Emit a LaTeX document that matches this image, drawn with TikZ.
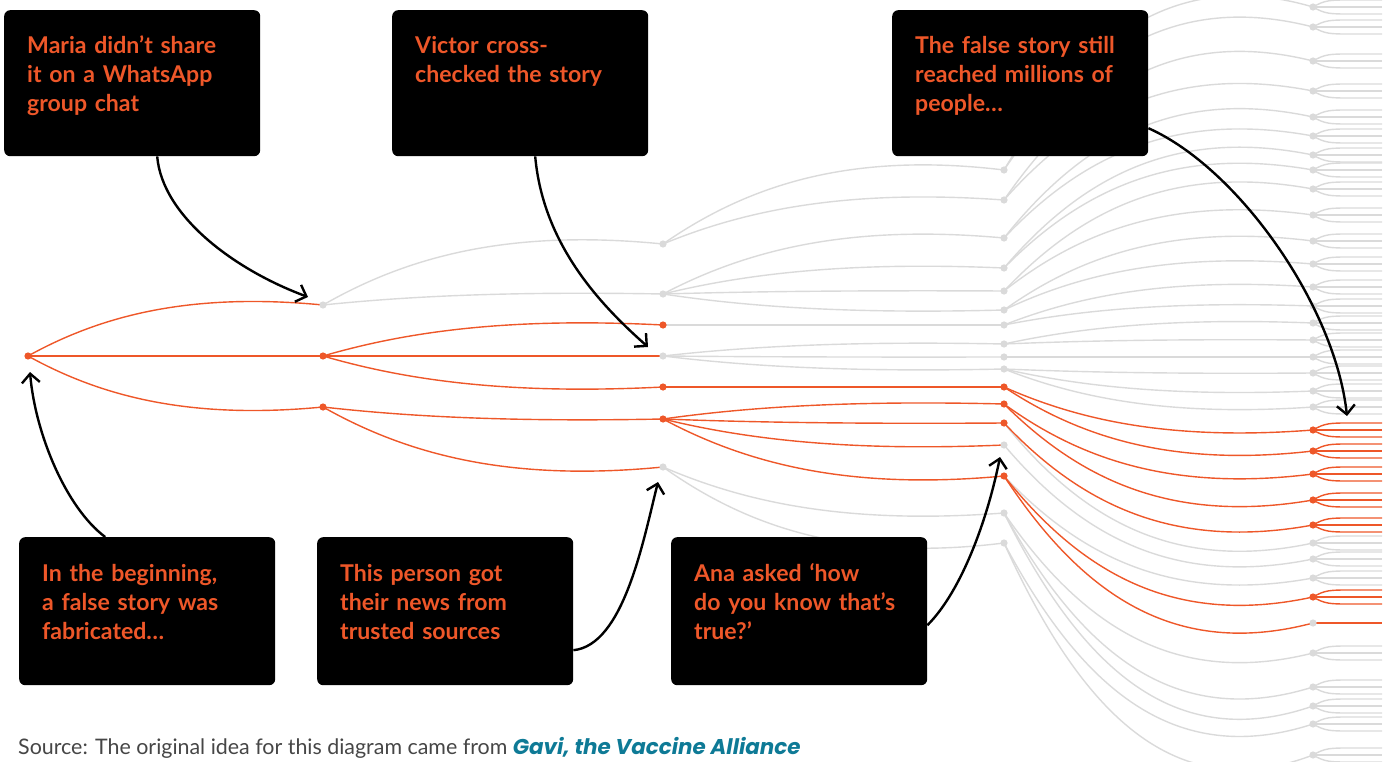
\documentclass[tikz,border=0pt]{standalone}
\usepackage{fontspec}
\setmainfont{Lato}
\newfontfamily\gavifont{Poppins}
\usepackage{xcolor}
\definecolor{story}{RGB}{238, 87, 41}
\definecolor{muted}{RGB}{218, 218, 218}
\definecolor{sourcegray}{RGB}{70, 70, 70}
\definecolor{gavi}{RGB}{14, 122, 150}
\usepackage{tikz}
\usetikzlibrary{calc,arrows.meta}

% one spreading step of the story
\newcommand{\branch}[3]{%
  \draw[#1] let \p1=(#2), \p2=(#3) in (#2)
    .. controls (\x1+0.25*\x2-0.25*\x1, \y1+0.8*\y2-0.8*\y1)
    and (\x1+0.55*\x2-0.55*\x1, \y1+1.25*\y2-1.25*\y1) .. (#3);}

\begin{document}
\begin{tikzpicture}[x=1pt, y=-1pt,
    hot/.style={story, line width=1.4pt},
    cold/.style={muted, line width=1.4pt},
    note/.style={fill=black, rounded corners=6pt, anchor=north west, text=story,
        font=\bfseries\fontsize{23.1}{29}\selectfont, align=left,
        text width=210pt, inner xsep=23pt, inner ysep=0pt},
    top/.style={text height=43pt, text depth=103pt},
    low/.style={text height=44pt, text depth=104pt},
    pointer/.style={black, line width=2.4pt, -{Straight Barb[length=9pt, width=18pt]}}]
    \useasboundingbox (0,0) rectangle (1392,762);

    % Sharing levels
    \coordinate (r) at (28,356);
    \coordinate (a1) at (323,305);
    \coordinate (a2) at (323,356);
    \coordinate (a3) at (323,407);
    \foreach \y [count=\i] in {244,294,325,356,387,419,467}
        \coordinate (b\i) at (663,\y);
    \foreach \y [count=\i] in {170,200,238,268,291,310,325,344,357,369,387,404,423,445,476,513,543}
        \coordinate (c\i) at (1004,\y);
    \foreach \y [count=\i] in {7,27,61,91,117,136,155,170,189,215,241,264,287,306,323,340,357,373,
        391,407,430,451,474,500,525,543,559,578,597,623,653,687,706,724,755}
        \coordinate (d\i) at (1313,\y);

    % Faded branches
    \foreach \src/\dst in {a1/b1, a1/b2, b1/c1, b1/c2, b2/c3, b2/c4, b2/c5, b2/c6, b3/c7,
        b4/c8, b4/c9, b4/c10, b7/c16, b7/c17,
        c1/d1, c1/d2, c2/d3, c2/d4, c3/d5, c3/d6, c4/d7, c4/d8, c5/d9, c5/d10,
        c6/d11, c6/d12, c7/d13, c7/d14, c8/d15, c8/d16, c9/d17, c10/d18, c10/d19, c10/d20,
        c13/d26, c14/d27, c15/d28, c16/d31, c16/d32, c16/d33, c17/d34, c17/d35}
        \branch{cold}{\src}{\dst};
    \foreach \y in {7,27,61,91,117,136,155,170,189,215,241,264,287,306,323,340,357,373,
        391,407,543,559,578,653,687,706,724,755} {
        \draw[cold] (1313,\y) .. controls (1325,\y-7) and (1330,\y-7) .. (1350,\y-7) -- (1382,\y-7);
        \draw[cold] (1313,\y) -- (1382,\y);
        \draw[cold] (1313,\y) .. controls (1325,\y+7) and (1330,\y+7) .. (1350,\y+7) -- (1382,\y+7);
    }

    % Path of the false story
    \foreach \src/\dst in {r/a1, r/a2, r/a3, a2/b3, a2/b4, a2/b5, a3/b6, a3/b7,
        b5/c11, b6/c12, b6/c13, b6/c14, b6/c15,
        c11/d21, c11/d22, c12/d23, c12/d24, c13/d25, c15/d29, c15/d30}
        \branch{hot}{\src}{\dst};
    \foreach \y in {430,451,474,500,525,597} {
        \draw[hot] (1313,\y) .. controls (1325,\y-7) and (1330,\y-7) .. (1350,\y-7) -- (1382,\y-7);
        \draw[hot] (1313,\y) -- (1382,\y);
        \draw[hot] (1313,\y) .. controls (1325,\y+7) and (1330,\y+7) .. (1350,\y+7) -- (1382,\y+7);
    }
    \draw[hot] (d30) -- (1382,623);

    % Dots
    \foreach \n in {a1,b1,b2,b4,b7,c1,c2,c3,c4,c5,c6,c7,c8,c9,c10,c14,c16,c17,
        d1,d2,d3,d4,d5,d6,d7,d8,d9,d10,d11,d12,d13,d14,d15,d16,d17,d18,d19,d20,
        d26,d27,d28,d30,d31,d32,d33,d34,d35}
        \fill[muted] (\n) circle (3.6pt);
    \foreach \n in {r,a2,a3,b3,b5,b6,c11,c12,c13,c15,d21,d22,d23,d24,d25,d29}
        \fill[story] (\n) circle (3.6pt);

    % Notes
    \node[note, top] (mariabox) at (4,10) {Maria didn’t share\\it on a WhatsApp\\group chat};
    \node[note, top] (victorbox) at (392,10) {Victor cross-\\checked the story};
    \node[note, top] (reachbox) at (892,10) {The false story still\\reached millions of\\people…};
    \node[note, low] (startbox) at (19,537) {In the beginning,\\a false story was\\fabricated…};
    \node[note, low] (trustbox) at (317,537) {This person got\\their news from\\trusted sources};
    \node[note, low] (anabox) at (671,537) {Ana asked ‘how\\do you know that’s\\true?’};

    % Pointers
    \draw[pointer] ([xshift=25pt]mariabox.south) .. controls +(5,60) and +(-73,-27) .. ([shift={(-15,-8)}]a1);
    \draw[pointer] ([xshift=15pt]victorbox.south) .. controls +(8,90) and +(-45,-40) .. ([shift={(-15,-9)}]b4);
    \draw[pointer] ([shift={(0,45)}]reachbox.east) .. controls +(90,40) and +(-12,-110) .. ([shift={(34,9)}]d20);
    \draw[pointer] ([xshift=-42pt]startbox.north) .. controls +(-40,-30) and +(5,60) .. ([shift={(2,16)}]r);
    \draw[pointer] ([shift={(0,39)}]trustbox.east) .. controls +(50,-5) and +(-15,60) .. ([shift={(-5,15)}]b7);
    \draw[pointer] ([shift={(0,14)}]anabox.east) .. controls +(35,-35) and +(-12,60) .. ([shift={(-4,12)}]c14);

    % Source
    \node[anchor=base west, inner sep=0pt, text=sourcegray, font=\fontsize{21.4}{25}\selectfont] (source) at (18,754)
        {Source: The original idea for this diagram came from \textcolor{gavi}{\gavifont\bfseries\itshape Gavi, the Vaccine Alliance}};
\end{tikzpicture}
\end{document}
